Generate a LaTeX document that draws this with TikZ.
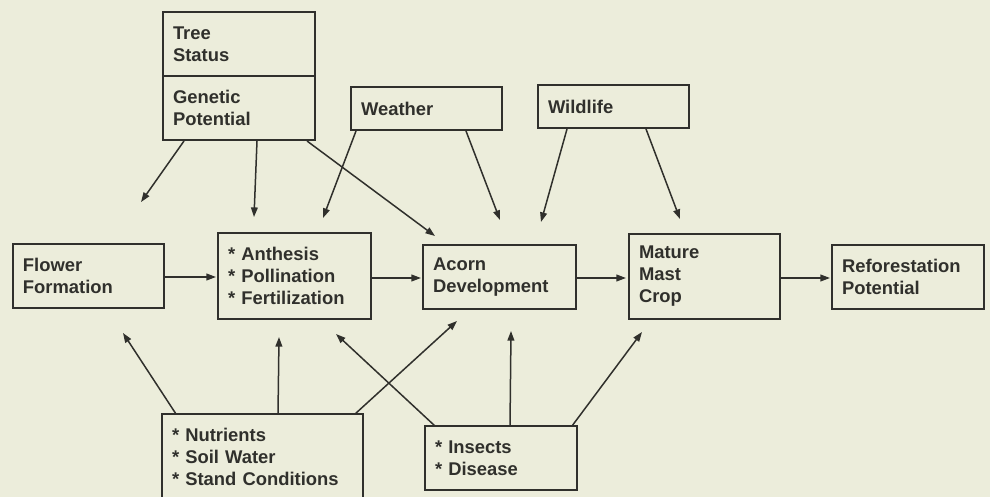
\documentclass[tikz,border=0pt]{standalone}
\usepackage{fontspec}
\setmainfont{Liberation Sans}
\usetikzlibrary{calc,arrows.meta}
\definecolor{bg}{RGB}{236,237,219}
\definecolor{ink}{RGB}{48,48,44}
\newcommand\itm{\relax*\ }
\begin{document}
\begin{tikzpicture}[x=0.5pt,y=-0.5pt,
  box/.style={draw=ink,line width=0.65pt,inner xsep=5pt,inner ysep=0pt,outer sep=0pt,
    align=left,text=ink,font=\fontsize{9.2}{11}\selectfont\bfseries},
  arr/.style={draw=ink,line width=0.75pt,-{Triangle[length=4.8pt,width=3.4pt]}}]
\fill[bg] (0,0) rectangle (990,497);
\useasboundingbox (0,0) rectangle (990,497);
% nodes
\node[box,text width=66pt,minimum height=32pt] (tree) at (239,44) {Tree\\Status};
\node[box,text width=66pt,minimum height=32pt] (genetic) at (239,108) {Genetic\\Potential};
\node[box,text width=65.5pt,minimum height=21.5pt] (weather) at (426.5,108.5) {Weather};
\node[box,text width=65.5pt,minimum height=21.5pt] (wildlife) at (613.5,106.5) {Wildlife};
\node[box,text width=65.5pt,minimum height=32pt] (flower) at (88.5,276) {Flower\\Formation};
\node[box,text width=66.5pt,minimum height=43pt] (anth) at (294.5,276) {\itm Anthesis\\\itm Pollination\\\itm Fertilization};
\node[box,text width=66.5pt,minimum height=32pt] (acorn) at (499.5,277) {Acorn\\Development};
\node[box,text width=65.5pt,minimum height=42.5pt] (mature) at (704.5,276.5) {Mature\\Mast\\Crop};
\node[box,text width=66pt,minimum height=32pt] (refor) at (908,277) {Reforestation\\Potential};
\begin{scope}
\clip (0,0) rectangle (990,497);
\node[box,text width=90.5pt,minimum height=43pt] (nutr) at (262.5,457) {\itm Nutrients\\\itm Soil Water\\\itm Stand Conditions};
\end{scope}
\node[box,text width=66pt,minimum height=32pt] (insects) at (501,458) {\itm Insects\\\itm Disease};
% arrow end points
\coordinate (eFl) at ($(flower.north west)+(128,-42)$);
\coordinate (eAn1) at ($(anth.north west)+(36,-16)$);
\coordinate (eAc1) at ($(acorn.north west)+(12,-9)$);
\coordinate (eAn2) at ($(anth.north west)+(105,-15)$);
\coordinate (eAc2) at ($(acorn.north west)+(77,-25)$);
\coordinate (eAc3) at ($(acorn.north west)+(118,-23)$);
\coordinate (eMa1) at ($(mature.north west)+(51,-15)$);
\coordinate (eFl2) at ($(flower.south west)+(110,25)$);
\coordinate (eAn3) at ($(anth.south west)+(61,18)$);
\coordinate (eAc4) at ($(acorn.south west)+(34,12)$);
\coordinate (eAn4) at ($(anth.south west)+(118,15)$);
\coordinate (eAc5) at ($(acorn.south west)+(88,22)$);
\coordinate (eMa2) at ($(mature.south west)+(13,13)$);
% arrows from top
\draw[arr] ($(genetic.south west)+(21,1)$) -- (eFl);
\draw[arr] ($(genetic.south west)+(94,1)$) -- (eAn1);
\draw[arr] ($(genetic.south west)+(144,1)$) -- (eAc1);
\draw[arr] ($(weather.south west)+(5,1)$) -- (eAn2);
\draw[arr] ($(weather.south west)+(115,1)$) -- (eAc2);
\draw[arr] ($(wildlife.south west)+(29,1)$) -- (eAc3);
\draw[arr] ($(wildlife.south west)+(108,1)$) -- (eMa1);
% horizontal chain
\draw[arr] (flower.east |- 0,277) -- ($(anth.west |- 0,277)+(-2,0)$);
\draw[arr] (anth.east |- 0,278) -- ($(acorn.west |- 0,278)+(-2,0)$);
\draw[arr] (acorn.east |- 0,278) -- ($(mature.west |- 0,278)+(-3,0)$);
\draw[arr] (mature.east |- 0,278) -- ($(refor.west |- 0,278)+(-2,0)$);
% arrows from bottom
\draw[arr] ($(nutr.north west)+(14,0)$) -- (eFl2);
\draw[arr] ($(nutr.north west)+(116,0)$) -- (eAn3);
\draw[arr] ($(nutr.north west)+(193,0)$) -- (eAc4);
\draw[arr] ($(insects.north west)+(10,0)$) -- (eAn4);
\draw[arr] ($(insects.north west)+(85,0)$) -- (eAc5);
\draw[arr] ($(insects.north west)+(147,0)$) -- (eMa2);
\end{tikzpicture}
\end{document}
